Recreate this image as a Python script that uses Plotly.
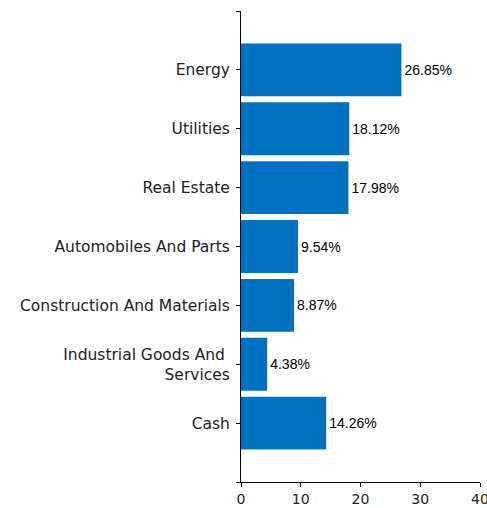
import plotly.graph_objects as go

categories = ["Energy", "Utilities", "Real Estate", "Automobiles And Parts",
              "Construction And Materials", "Industrial Goods And <br>Services", "Cash"]
values = [26.85, 18.12, 17.98, 9.54, 8.87, 4.38, 14.26]
labels = ["26.85%", "18.12%", "17.98%", "9.54%", "8.87%", "4.38%", "14.26%"]
x_ticks = [0, 10, 20, 30, 40]

pos = list(range(len(categories)))

fig = go.Figure(go.Bar(
    x=values, y=pos, orientation="h",
    marker=dict(color="#0070C0", line=dict(width=0)),
    width=0.9,
    text=labels, textposition="outside", cliponaxis=False,
    textfont=dict(family="Liberation Sans, Arial", size=14, color="#000"),
))

fig.update_layout(
    width=487, height=508,
    margin=dict(l=241, r=7, t=11, b=26, autoexpand=False),
    plot_bgcolor="white", paper_bgcolor="white",
    showlegend=False,
    font=dict(family="DejaVu Sans", size=15.5, color="#222"),
    xaxis=dict(range=[0, 40], tickvals=x_ticks, showgrid=False, zeroline=False,
               showline=True, linecolor="#000", linewidth=1,
               ticks="outside", ticklen=4, tickcolor="#000",
               tickfont=dict(size=14), automargin=False,
               ticklabeloverflow="allow"),
    yaxis=dict(range=[7, -1], tickvals=[-1] + pos + [7], ticktext=[""] + categories + [""],
               showgrid=False, zeroline=False, automargin=False,
               showline=True, linecolor="#000", linewidth=1,
               ticks="outside", ticklen=4, tickcolor="#000",
               ticklabelstandoff=3),
)

fig.write_html("out.html")
